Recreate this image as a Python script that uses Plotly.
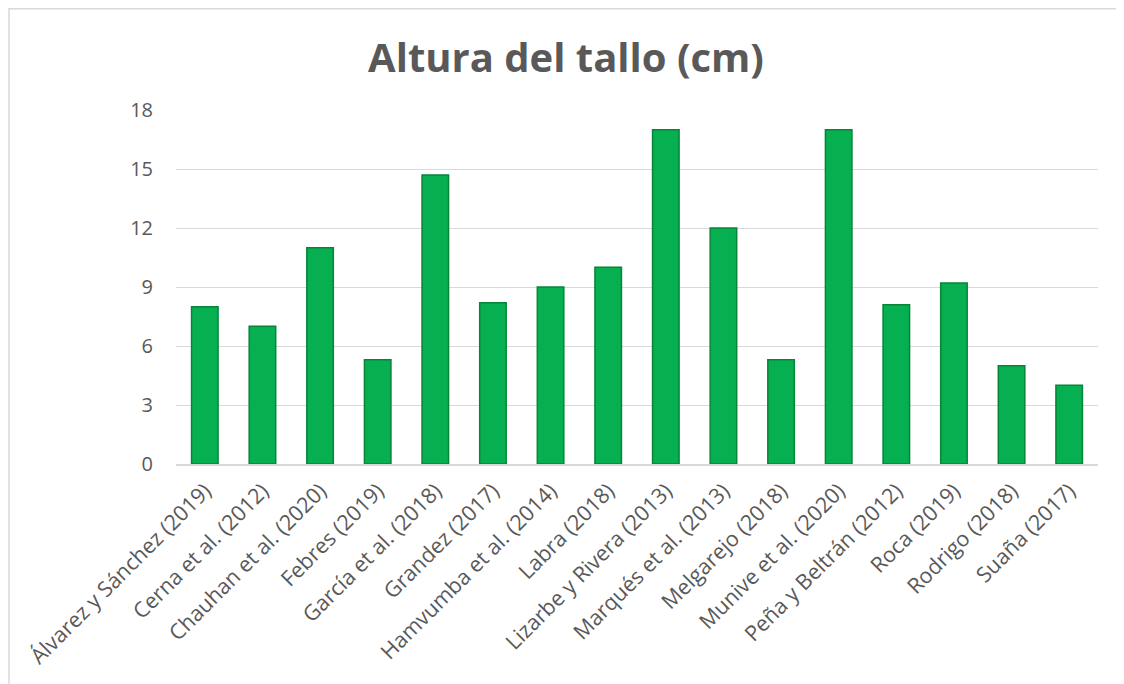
import plotly.graph_objects as go

autores = ["Álvarez y Sánchez (2019)", "Cerna et al. (2012)", "Chauhan et al. (2020)",
           "Febres (2019)", "García et al. (2018)", "Grandez (2017)",
           "Hamvumba et al. (2014)", "Labra (2018)", "Lizarbe y Rivera (2013)",
           "Marqués et al. (2013)", "Melgarejo (2018)", "Munive et al. (2020)",
           "Peña y Beltrán (2012)", "Roca (2019)", "Rodrigo (2018)", "Suaña (2017)"]
altura = [8, 7, 11, 5.3, 14.7, 8.2, 9, 10, 17, 12, 5.3, 17, 8.1, 9.2, 5, 4]
y_ticks = [0, 3, 6, 9, 12, 15, 18]

# la página añade 8px de margen al cuerpo
W, H = 1116, 676
L, R, T, B = 168, 26, 102, 220
pw, ph = W - L - R, H - T - B

fig = go.Figure()
fig.add_trace(go.Bar(
    x=autores, y=altura,
    marker=dict(color="#06B050", line=dict(color="#07843A", width=1.5)),
    width=0.46,
))

# borde del gráfico (estilo Excel)
fig.add_shape(type="rect", xref="paper", yref="paper",
              x0=(1 - L) / pw, x1=(1109 - L) / pw,
              y0=-(H + 5 - T - ph) / ph, y1=1 + (T - 0.8) / ph,
              line=dict(color="#D9D9D9", width=1.5), fillcolor="rgba(0,0,0,0)",
              layer="below")

fig.update_layout(
    width=W, height=H,
    margin=dict(l=L, r=R, t=T, b=B),
    paper_bgcolor="white", plot_bgcolor="white",
    font=dict(family="Open Sans, Liberation Sans, sans-serif", color="#595959", size=19),
    title=dict(text="<b>Altura del tallo (cm)</b>", x=0.5, xanchor="center",
               y=1 - 50 / H, yanchor="middle",
               font=dict(size=40, color="#595959", family="Open Sans, sans-serif")),
    showlegend=False,
)
fig.update_xaxes(tickangle=-45, showgrid=False, showline=True, linecolor="#D9D9D9",
                 linewidth=1.5, ticks="", tickfont=dict(size=21.5, color="#595959"),
                 automargin=False, ticklabelstandoff=4)
fig.update_yaxes(range=[0, 18], tickvals=y_ticks, showgrid=True, gridcolor="#D9D9D9",
                 gridwidth=1.2, zeroline=False, ticks="",
                 tickfont=dict(size=20, color="#595959"), automargin=False,
                 ticklabelstandoff=22)

fig.write_html("out.html")
